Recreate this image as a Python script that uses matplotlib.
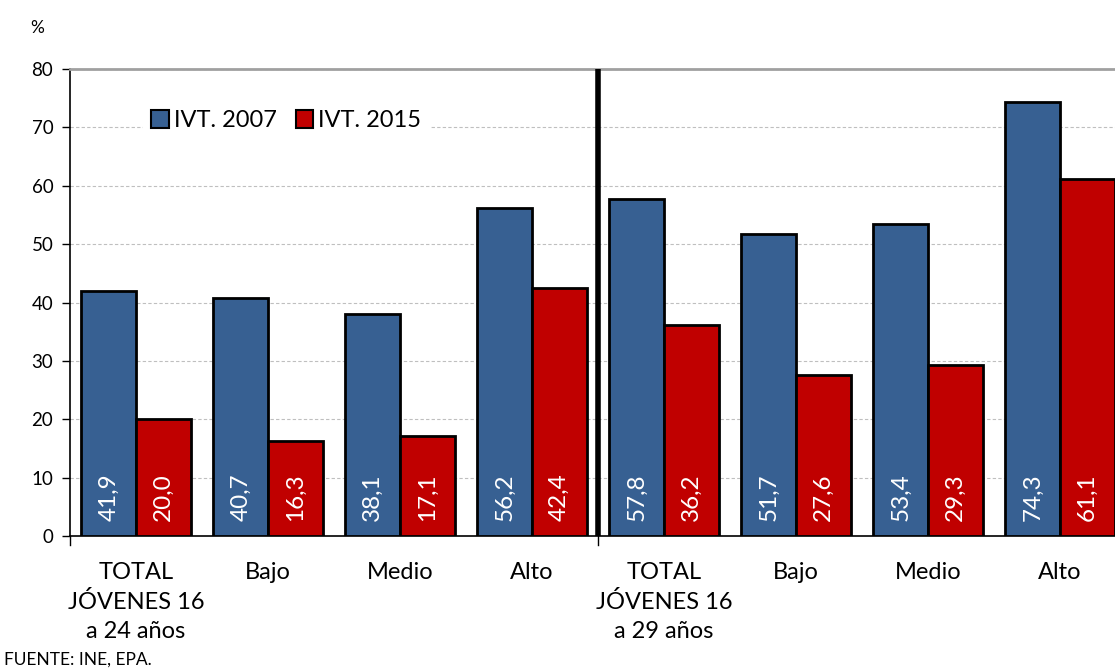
import numpy as np
import matplotlib.pyplot as plt
from matplotlib.patches import Patch

# 数据
categorias = ["TOTAL\nJÓVENES 16\na 24 años", "Bajo", "Medio", "Alto",
              "TOTAL\nJÓVENES 16\na 29 años", "Bajo", "Medio", "Alto"]
ivt_2007 = [41.9, 40.7, 38.1, 56.2, 57.8, 51.7, 53.4, 74.3]
ivt_2015 = [20.0, 16.3, 17.1, 42.4, 36.2, 27.6, 29.3, 61.1]
series = ["IVT. 2007", "IVT. 2015"]

azul = "#376092"
rojo = "#C00000"

plt.rcParams['font.family'] = ['Lato', 'DejaVu Sans']

fig = plt.figure(figsize=(11.15, 6.71), dpi=100)
ax = fig.add_axes([70/1115, 1 - 536/671, 1056/1115, (536 - 69)/671])

x = np.arange(len(categorias))
w = 0.415
b1 = ax.bar(x - w/2, ivt_2007, w, color=azul, edgecolor="black", linewidth=2, zorder=3)
b2 = ax.bar(x + w/2, ivt_2015, w, color=rojo, edgecolor="black", linewidth=2, zorder=3)

# etiquetas dentro de las barras
for bars, vals in [(b1, ivt_2007), (b2, ivt_2015)]:
    for rect, v in zip(bars, vals):
        ax.text(rect.get_x() + rect.get_width()/2, 2.6, f"{v:.1f}".replace(".", ","),
                rotation=90, ha="center", va="bottom", color="white", fontsize=17.5, zorder=4)

# línea separadora
ax.axvline(3.5, color="black", linewidth=4, zorder=5)

ax.set_xlim(-0.5, 7.5)
ax.set_ylim(0, 80)
ax.set_yticks(range(0, 81, 10))
ax.tick_params(axis="y", labelsize=13.5, length=6, width=1, direction="out", pad=6)
ax.yaxis.grid(True, color="#BFBFBF", linestyle=(0, (3, 2)), linewidth=0.8, zorder=0)

ax.set_xticks(x)
ax.set_xticklabels(categorias, fontsize=17, linespacing=1.45)
ax.tick_params(axis="x", length=0, pad=19)
# marcas de grupo en el eje x
for xt in [-0.5, 3.5]:
    ax.plot([xt, xt], [0, -1.5], color="black", linewidth=1, clip_on=False, zorder=6)

ax.spines["top"].set_color("#A0A0A0")
ax.spines["top"].set_linewidth(2)
ax.spines["right"].set_visible(False)
ax.spines["left"].set_linewidth(1.2)
ax.spines["bottom"].set_linewidth(1.2)

handles = [Patch(facecolor=azul, edgecolor="black", linewidth=1.5),
           Patch(facecolor=rojo, edgecolor="black", linewidth=1.5)]
leg = ax.legend(handles, series, loc="center left", bbox_to_anchor=(0.058, 0.889), ncol=2,
                fontsize=17, frameon=True, fancybox=False, edgecolor="white", framealpha=1,
                handlelength=0.75, handleheight=0.75, handletextpad=0.2, columnspacing=0.8,
                borderpad=0.35)
leg.set_zorder(7)

fig.text(30/1115, 1 - 28/671, "%", fontsize=12.5, va="center")
fig.text(4/1115, 1 - 660/671, "FUENTE: INE, EPA.", fontsize=12.5, va="center")

plt.savefig("out.png", dpi=100)
